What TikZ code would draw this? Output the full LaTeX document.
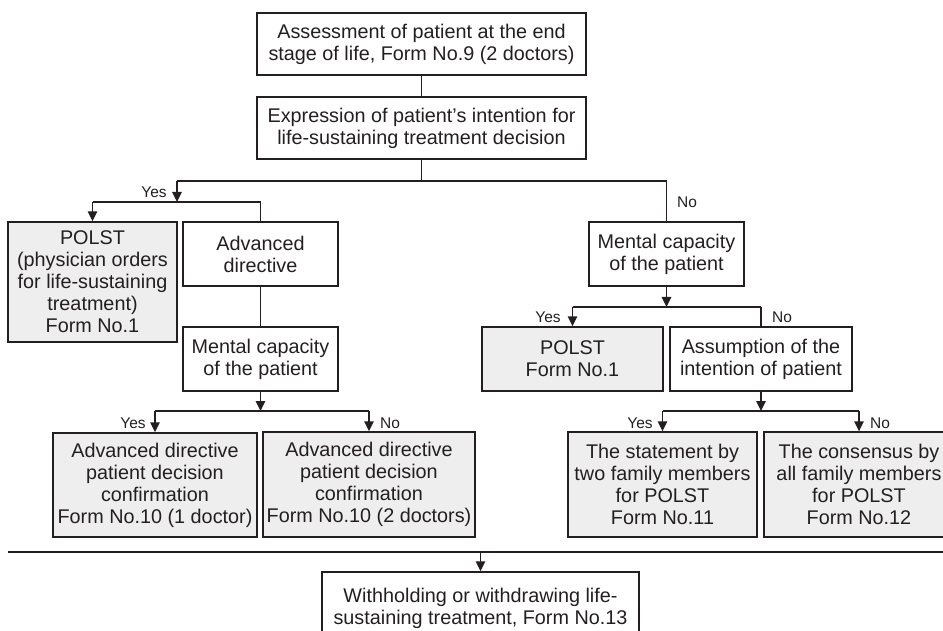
\documentclass[tikz,border=0pt]{standalone}
\usepackage{fontspec}
\setmainfont{Liberation Sans}
\usetikzlibrary{arrows.meta}
\definecolor{ink}{HTML}{231F20}
\definecolor{boxgray}{HTML}{EEEEEE}
\begin{document}
\begin{tikzpicture}[x=1pt,y=-1pt,
  box/.style={draw=ink, line width=1.4pt, text=ink, align=center, inner sep=0pt,
    font=\fontsize{19.8}{22}\selectfont},
  greybox/.style={box, fill=boxgray},
  lbl/.style={text=ink, inner sep=0pt, font=\fontsize{15.5}{17}\selectfont},
  conn/.style={draw=ink, line width=1.4pt},
  arr/.style={conn, -{Triangle[length=10pt,width=9.5pt]}}]
\useasboundingbox (0,0) rectangle (943,631);

% boxes
\node[box, minimum width=329pt, minimum height=62pt] (A) at (421.5,44)
  {Assessment of patient at the end\\stage of life, Form No.9 (2 doctors)};
\node[box, minimum width=329pt, minimum height=62pt] (B) at (421.5,128)
  {Expression of patient’s intention for\\life-sustaining treatment decision};
\node[greybox, minimum width=169pt, minimum height=120pt] (P1) at (92.5,282)
  {POLST\\(physician orders\\for life-sustaining\\treatment)\\Form No.1};
\node[box, minimum width=155pt, minimum height=64pt] (AD) at (260.5,254)
  {Advanced\\directive};
\node[box, minimum width=155pt, minimum height=64pt] (MC1) at (260.5,359)
  {Mental capacity\\of the patient};
\node[greybox, minimum width=204pt, minimum height=104pt] (D1) at (155,485)
  {Advanced directive\\patient decision\\confirmation\\Form No.10 (1 doctor)};
\node[greybox, minimum width=212pt, minimum height=105pt] (D2) at (369,484.5)
  {Advanced directive\\patient decision\\confirmation\\Form No.10 (2 doctors)};
\node[box, minimum width=155pt, minimum height=64pt] (MC2) at (666.5,254)
  {Mental capacity\\of the patient};
\node[greybox, minimum width=181pt, minimum height=64pt] (P2) at (572.5,359)
  {POLST\\Form No.1};
\node[box, minimum width=182pt, minimum height=64pt] (AS) at (761,359)
  {Assumption of the\\intention of patient};
\node[greybox, minimum width=189pt, minimum height=105pt] (S1) at (662.5,484.5)
  {The statement by\\two family members\\for POLST\\Form No.11};
\node[greybox, minimum width=190pt, minimum height=105pt] (S2) at (859,484.5)
  {The consensus by\\all family members\\for POLST\\Form No.12};
\node[box, minimum width=317pt, minimum height=72pt] (F) at (480.5,608)
  {Withholding or withdrawing life-\\sustaining treatment, Form No.13};

% junction coordinates
\coordinate (j1) at (421.5,181);
\coordinate (j1l) at (177,181);
\coordinate (j1r) at (666.5,181);
\coordinate (j2) at (177,202);
\coordinate (j2l) at (92.5,202);
\coordinate (j2r) at (260.5,202);
\coordinate (j3) at (260.5,411);
\coordinate (j3l) at (155,411);
\coordinate (j3r) at (369,411);
\coordinate (j4) at (666.5,307);
\coordinate (j4l) at (572.5,307);
\coordinate (j4r) at (761,307);
\coordinate (j5) at (761,411);
\coordinate (j5l) at (662.5,411);
\coordinate (j5r) at (859,411);
\coordinate (b0) at (8,552);
\coordinate (b1) at (943,552);
\coordinate (bm) at (480.5,552);

% connectors
\draw[conn] (A) -- (B);
\draw[conn] (B.south) -- (j1);
\draw[conn] (j1l) -- (j1r);
\draw[arr] (j1l) -- (j2);
\draw[conn] (j2l) -- (j2r);
\draw[arr] (j2l) -- (P1.north);
\draw[conn] (j2r) -- (AD.north);
\draw[conn] (j1r) -- (MC2.north);
\draw[conn] (AD) -- (MC1);
\draw[arr] (MC1.south) -- (j3);
\draw[conn] (j3l) -- (j3r);
\draw[arr] (j3l) -- (D1.north);
\draw[arr] (j3r) -- (D2.north);
\draw[arr] (MC2.south) -- (j4);
\draw[conn] (j4l) -- (j4r);
\draw[arr] (j4l) -- (P2.north);
\draw[conn] (j4r) -- (AS.north);
\draw[arr] (AS.south) -- (j5);
\draw[conn] (j5l) -- (j5r);
\draw[arr] (j5l) -- (S1.north);
\draw[arr] (j5r) -- (S2.north);
\draw[conn] (b0) -- (b1);
\draw[arr] (bm) -- (F.north);

% labels
\node[lbl] (yes1) at (154,192) {Yes};
\node[lbl] (no1) at (687,202) {No};
\node[lbl] (yes2) at (133,423) {Yes};
\node[lbl] (no2) at (390,423) {No};
\node[lbl] (yes3) at (548,317) {Yes};
\node[lbl] (no3) at (782,317) {No};
\node[lbl] (yes4) at (640,423) {Yes};
\node[lbl] (no4) at (880,423) {No};
\end{tikzpicture}
\end{document}
